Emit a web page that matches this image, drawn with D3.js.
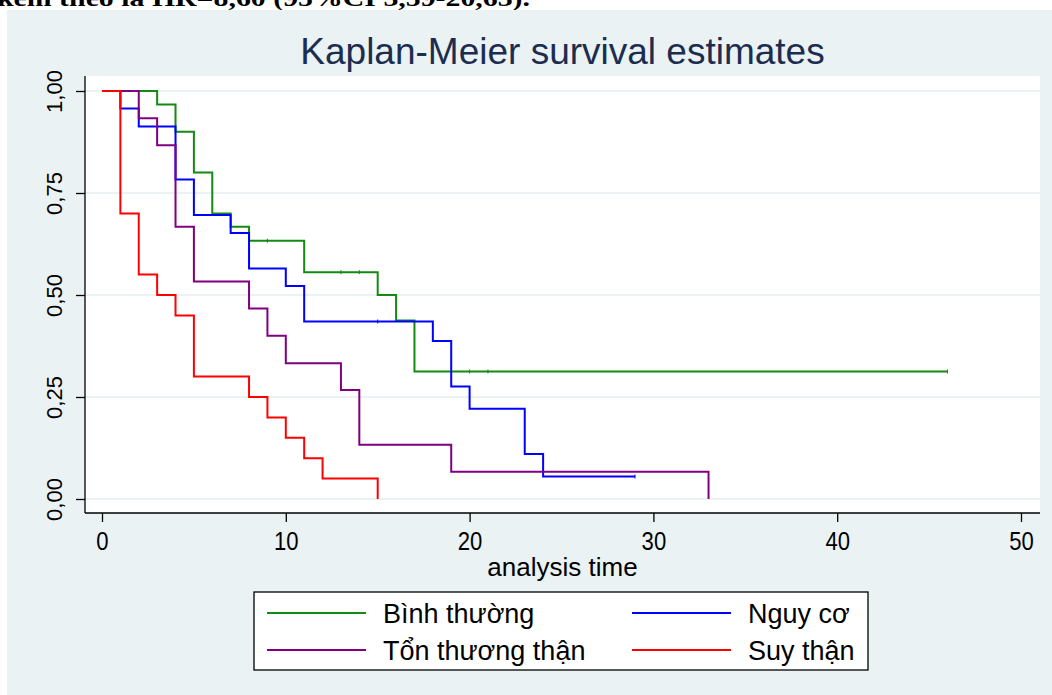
<!DOCTYPE html>
<html>
<head>
<meta charset="utf-8">
<script src="https://cdn.jsdelivr.net/npm/d3@7"></script>
<style>
  body { margin: 0; background: #fff; }
  svg { display: block; }
  text { font-family: "Liberation Sans", Arial, Helvetica, sans-serif; }
</style>
</head>
<body>
<div class="chart"></div>
<script>
const width = 1052;
const height = 695;

// survival steps: times where the curve changes, and the value after it
const groups = ["Bình thường", "Nguy cơ", "Tổn thương thận", "Suy thận"];
const colors = ["#138a13", "#0000ff", "#800080", "#ff0000"];

const binhTimes = [0, 3, 4, 5, 6, 7, 8, 11, 15, 16, 17, 46];
const binhSurv = [1, 0.967, 0.9, 0.8, 0.7, 0.667, 0.633, 0.556, 0.5, 0.4375, 0.3125, 0.3125];
const binhCensor = [9, 13, 14, 20, 21, 46];

const nguyTimes = [0, 1, 2, 4, 5, 7, 8, 10, 11, 18, 19, 20, 23, 24, 29];
const nguySurv = [1, 0.957, 0.913, 0.783, 0.696, 0.652, 0.565, 0.522, 0.435, 0.387, 0.276, 0.221, 0.11, 0.055, 0.055];
const nguyCensor = [15, 29];

const tonTimes = [0, 2, 3, 4, 5, 8, 9, 10, 13, 14, 19, 33];
const tonSurv = [1, 0.933, 0.867, 0.667, 0.533, 0.467, 0.4, 0.333, 0.267, 0.133, 0.067, 0];
const tonCensor = [];

const suyTimes = [0, 1, 2, 3, 4, 5, 8, 9, 10, 11, 12, 15];
const suySurv = [1, 0.7, 0.55, 0.5, 0.45, 0.3, 0.25, 0.2, 0.15, 0.1, 0.05, 0];
const suyCensor = [];

const xTicks = [0, 10, 20, 30, 40, 50];
const yTicks = [0, 0.25, 0.5, 0.75, 1];

const series = [
  {times: binhTimes, surv: binhSurv, censor: binhCensor},
  {times: nguyTimes, surv: nguySurv, censor: nguyCensor},
  {times: tonTimes, surv: tonSurv, censor: tonCensor},
  {times: suyTimes, surv: suySurv, censor: suyCensor}
];

const svg = d3.select(".chart").append("svg").attr("width", width).attr("height", height);

// page text cut off above the figure
svg.append("text")
    .attr("x", -3).attr("y", 6)
    .attr("textLength", 533).attr("lengthAdjust", "spacingAndGlyphs")
    .style("font-family", "'Liberation Serif', 'Times New Roman', serif")
    .style("font-weight", "bold").style("font-size", "23px")
    .text("kèm theo là HR=8,60 (95%CI 3,59-20,63).");

svg.append("rect").attr("x", 7).attr("y", 10).attr("width", width - 7).attr("height", height - 10)
    .attr("fill", "#eaf2f3");

const plot = {left: 85, right: 1040, top: 76, bottom: 513};

svg.append("rect").attr("x", plot.left).attr("y", plot.top)
    .attr("width", plot.right - plot.left).attr("height", plot.bottom - plot.top)
    .attr("fill", "#fff");

const x = d3.scaleLinear().domain([0, 50]).range([102, 1021]);
const y = d3.scaleLinear().domain([0, 1]).range([499, 91]);

const fmt = d3.formatLocale({decimal: ",", thousands: ".", grouping: [3], currency: ["", ""]}).format(".2f");

svg.selectAll(".grid")
  .data(yTicks)
  .enter()
    .append("line")
    .attr("class", "grid")
    .attr("x1", plot.left).attr("x2", plot.right)
    .attr("y1", d => y(d)).attr("y2", d => y(d))
    .attr("stroke", "#eaf2f3").attr("stroke-width", 2);

// axes
const yAxis = svg.append("g")
    .attr("transform", `translate(${plot.left},0)`)
    .call(d3.axisLeft(y).tickValues(yTicks).tickSize(9).tickFormat(fmt));
yAxis.select(".domain").remove();
yAxis.selectAll(".tick line").attr("stroke", "#000").attr("stroke-width", 1.3);
yAxis.selectAll(".tick text")
    .attr("x", null).attr("dy", null)
    .attr("transform", "translate(-23,0) rotate(-90)")
    .attr("text-anchor", "middle")
    .style("font-size", "22px").attr("fill", "#000");

const xAxis = svg.append("g")
    .attr("transform", `translate(0,${plot.bottom})`)
    .call(d3.axisBottom(x).tickValues(xTicks).tickSize(9));
xAxis.select(".domain").remove();
xAxis.selectAll(".tick line").attr("stroke", "#000").attr("stroke-width", 1.3);
xAxis.selectAll(".tick text")
    .attr("y", null).attr("dy", null)
    .attr("transform", "translate(0,37) scale(0.85,1)")
    .style("font-size", "26px").attr("fill", "#000");

svg.append("line").attr("x1", plot.left).attr("x2", plot.left)
    .attr("y1", plot.top).attr("y2", plot.bottom)
    .attr("stroke", "#000").attr("stroke-width", 1.3);
svg.append("line").attr("x1", plot.left).attr("x2", plot.right)
    .attr("y1", plot.bottom).attr("y2", plot.bottom)
    .attr("stroke", "#000").attr("stroke-width", 1.3);

// step curves
const line = d3.line()
    .x(d => x(d[0]))
    .y(d => y(d[1]))
    .curve(d3.curveStepAfter);

series.forEach((s, i) => {
  const pts = s.times.map((t, j) => [t, s.surv[j]]);
  svg.append("path")
      .attr("d", line(pts))
      .attr("fill", "none")
      .attr("stroke", colors[i])
      .attr("stroke-width", 2);

  const stepAt = t => {
    let v = s.surv[0];
    s.times.forEach((tt, j) => { if (tt <= t) v = s.surv[j]; });
    return v;
  };
  svg.selectAll(".censor" + i)
    .data(s.censor)
    .enter()
      .append("line")
      .attr("x1", d => x(d)).attr("x2", d => x(d))
      .attr("y1", d => y(stepAt(d)) - 2).attr("y2", d => y(stepAt(d)) + 2)
      .attr("stroke", colors[i]).attr("stroke-width", 1);
});

// title
svg.append("text")
    .attr("x", (plot.left + plot.right) / 2).attr("y", 64)
    .attr("text-anchor", "middle")
    .style("font-size", "37px").attr("fill", "#1c2d50")
    .text("Kaplan-Meier survival estimates");

svg.append("text")
    .attr("x", (plot.left + plot.right) / 2).attr("y", 576)
    .attr("text-anchor", "middle")
    .style("font-size", "26px").attr("fill", "#000")
    .text("analysis time");

// legend
const legend = svg.append("g");
legend.append("rect").attr("x", 254).attr("y", 592).attr("width", 614).attr("height", 78)
    .attr("fill", "#fff").attr("stroke", "#000").attr("stroke-width", 1.3);

const item = legend.selectAll(".item")
  .data(groups)
  .enter()
    .append("g")
    .attr("class", "item")
    .attr("transform", (d, i) => `translate(${i % 2 === 0 ? 267 : 632},${i < 2 ? 613 : 650})`);

item.append("line")
    .attr("x1", 0).attr("x2", 99).attr("y1", 0).attr("y2", 0)
    .attr("stroke", (d, i) => colors[i]).attr("stroke-width", 2);

item.append("text")
    .attr("x", 116).attr("y", 10)
    .style("font-size", "27px").attr("fill", "#000")
    .text(d => d);
</script>
</body>
</html>
